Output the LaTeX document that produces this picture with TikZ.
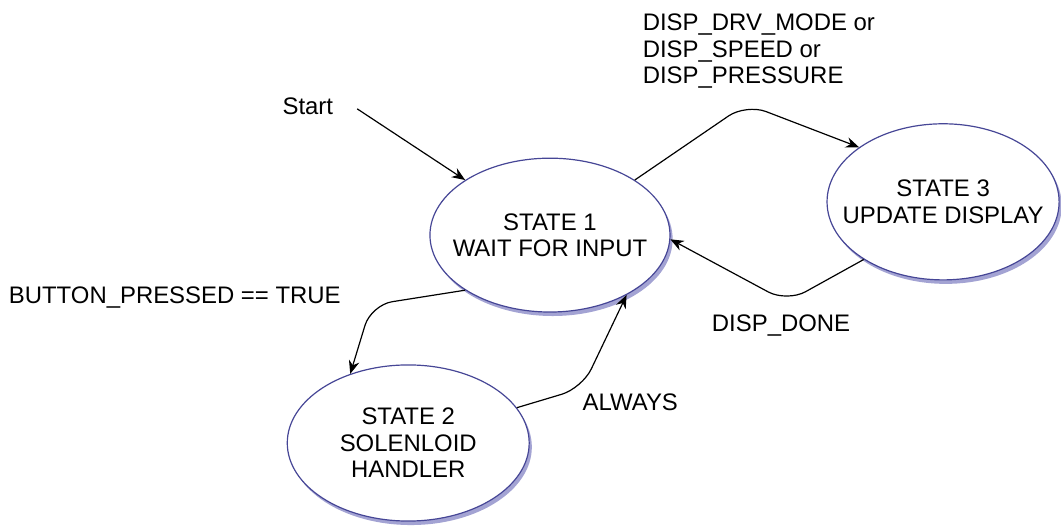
\documentclass[tikz,border=0pt]{standalone}
\usepackage{fontspec}
\setmainfont{Liberation Sans}
\usetikzlibrary{shapes.geometric, arrows.meta, shadows}

\definecolor{stateline}{RGB}{70,70,150}
\definecolor{stateshade}{RGB}{140,140,200}

\begin{document}
\begin{tikzpicture}[>={Stealth[length=10pt,width=8pt]}, line width=0.9pt,
    every node/.style={font=\fontsize{18}{20}\selectfont},
    state/.style={ellipse, draw=stateline, fill=white, inner xsep=-18pt, inner ysep=0pt, align=center,
        drop shadow={shadow xshift=2pt, shadow yshift=-3pt, fill=stateshade, opacity=0.8}},
    lbl/.style={inner sep=0pt, align=left}]
    \useasboundingbox (0,0) rectangle (28.07,13.89);

    % States
    \node[state, minimum width=6.35cm, minimum height=4.07cm] (s1) at (14.55,7.67) {STATE 1\\WAIT FOR INPUT};
    \node[state, minimum width=6.40cm, minimum height=4.13cm] (s2) at (10.80,2.17) {STATE 2\\SOLENLOID\\HANDLER};
    \node[state, minimum width=6.14cm, minimum height=4.13cm] (s3) at (24.95,8.55) {STATE 3\\UPDATE DISPLAY};

    % Start
    \node[lbl, anchor=base west] (start) at (7.46,10.87) {Start};
    \coordinate (startin) at (9.45,11.01);
    \draw[->] (startin) -- (s1.147);

    % State 1 -> State 3
    \coordinate (c13) at (19.74,11.14);
    \draw[->, rounded corners=16pt] (s1.33) -- (c13) -- (s3.147);
    \node[lbl, anchor=north west] (l13) at (16.99,13.54) {DISP\_DRV\_MODE or\\DISP\_SPEED or\\DISP\_PRESSURE};

    % State 3 -> State 1
    \coordinate (c31) at (20.82,5.90);
    \draw[->, rounded corners=16pt] (s3.216) -- (c31) -- (s1.-2);
    \node[lbl, anchor=base west] (l31) at (18.82,5.13) {DISP\_DONE};

    % State 1 -> State 2
    \coordinate (c12) at (9.82,5.82);
    \draw[->, rounded corners=16pt] (s1.213) -- (c12) -- (s2.130);
    \node[lbl, anchor=base west] (l12) at (0.22,5.85) {BUTTON\_PRESSED == TRUE};

    % State 2 -> State 1
    \coordinate (c21) at (15.40,3.62);
    \draw[->, rounded corners=16pt] (s2.18) -- (c21) -- (s1.-38);
    \node[lbl, anchor=base west] (l21) at (15.40,3.02) {ALWAYS};
\end{tikzpicture}
\end{document}
